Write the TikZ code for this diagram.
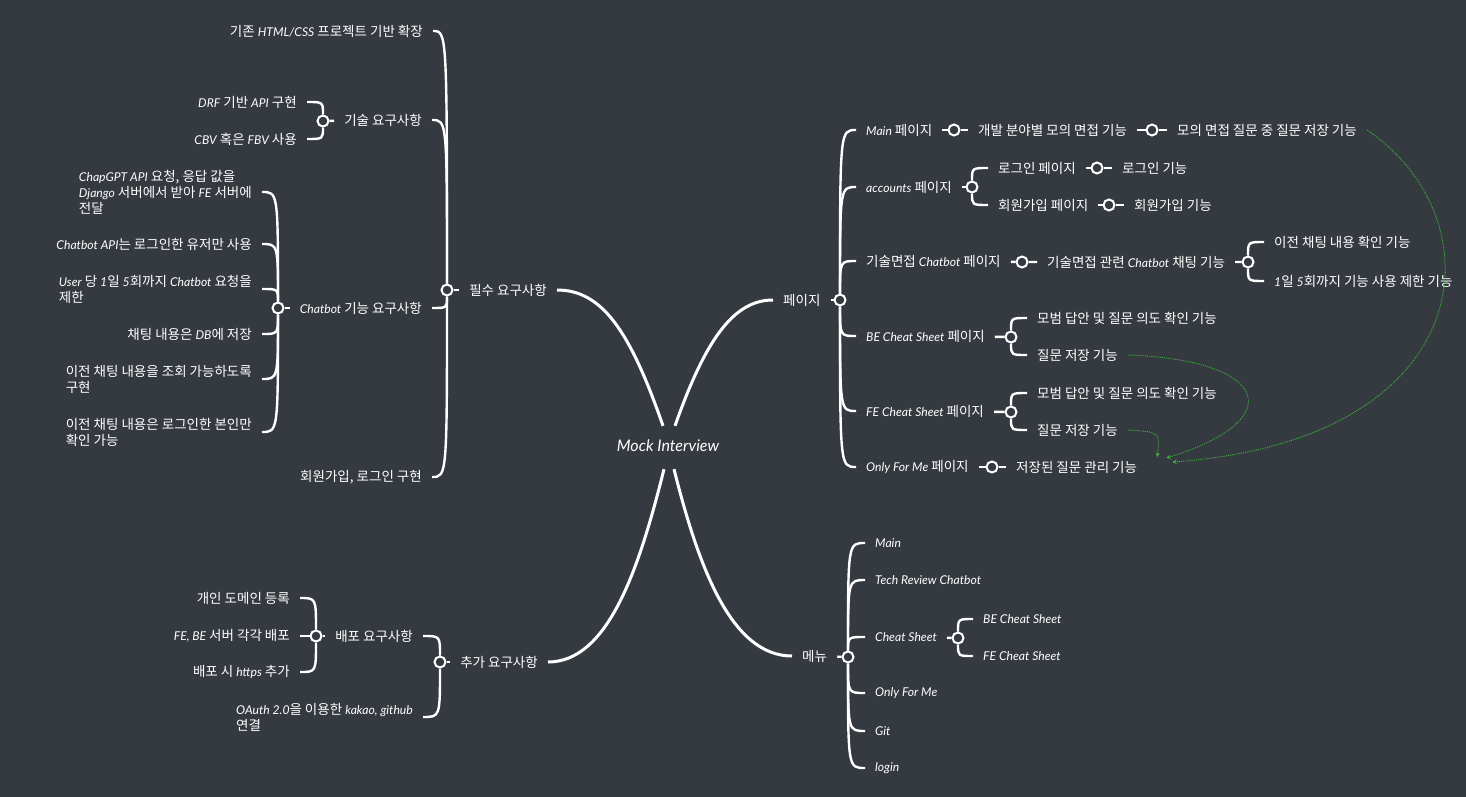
\documentclass[tikz,border=0pt]{standalone}
\usepackage{fontspec}
\setmainfont{Noto Sans CJK KR}
\newfontfamily\enfont{Lato}[Scale=0.9]
\newcommand{\en}[1]{{\enfont\itshape #1}}
\usetikzlibrary{arrows}
\definecolor{bg}{RGB}{53,58,64}
\definecolor{lgreen}{RGB}{60,185,60}

\begin{document}
\begin{tikzpicture}[x=1pt,y=-1pt,
  txt/.style={text=white,font=\fontsize{13.5}{16}\selectfont,inner xsep=10pt,inner ysep=2pt},
  lt/.style={txt,anchor=east,align=left},
  rt/.style={txt,anchor=west,align=left},
  hub/.style={circle,draw=white,line width=2pt,minimum size=11pt,inner sep=0pt},
  br/.style={draw=white,line width=2.4pt},
  trunk/.style={draw=white,line width=3pt},
  link/.style={draw=lgreen,densely dotted,line width=0.9pt,->,>=stealth}]
  \useasboundingbox (0,0) rectangle (1466,797);
  \fill[bg] (0,0) rectangle (1466,797);
  \node[txt,font=\fontsize{17.8}{20}\selectfont,inner ysep=14pt] (root) at (668,446) {\en{Mock Interview}};

  % required
  \node[lt] (req) at (557,290) {필수 요구사항};
  \node[hub] (h_req) at (447,290) {};
  \node[lt] (req_1) at (433,31) {기존 \en{HTML/CSS} 프로젝트 기반 확장};
  \node[lt] (req_2) at (432,120) {기술 요구사항};
  \node[hub] (h_req_2) at (323,121) {};
  \node[lt] (req_21) at (307,102) {\en{DRF} 기반 \en{API} 구현};
  \node[lt] (req_22) at (307,139) {\en{CBV} 혹은 \en{FBV} 사용};
  \node[lt] (req_3) at (432,308) {\en{Chatbot} 기능 요구사항};
  \node[hub] (h_req_3) at (278,308) {};
  \node[lt] (req_31) at (262,192) {\en{ChapGPT API} 요청, 응답 값을\\\en{Django} 서버에서 받아 \en{FE} 서버에\\전달};
  \node[lt] (req_32) at (262,244) {\en{Chatbot API}는 로그인한 유저만 사용};
  \node[lt] (req_33) at (262,289) {\en{User} 당 \en{1}일 \en{5}회까지 \en{Chatbot} 요청을\\제한};
  \node[lt] (req_34) at (262,334) {채팅 내용은 \en{DB}에 저장};
  \node[lt] (req_35) at (262,379) {이전 채팅 내용을 조회 가능하도록\\구현};
  \node[lt] (req_36) at (262,432) {이전 채팅 내용은 로그인한 본인만\\확인 가능};
  \node[lt] (req_4) at (432,477) {회원가입, 로그인 구현};

  % additional
  \node[lt] (add) at (548,662) {추가 요구사항};
  \node[hub] (h_add) at (440,662) {};
  \node[lt] (add_1) at (423,636) {배포 요구사항};
  \node[hub] (h_add_1) at (316,636) {};
  \node[lt] (add_11) at (300,598) {개인 도메인 등록};
  \node[lt] (add_12) at (300,636) {\en{FE, BE} 서버 각각 배포};
  \node[lt] (add_13) at (300,672) {배포 시 \en{https} 추가};
  \node[lt] (add_2) at (423,717) {\en{OAuth 2.0}을 이용한 \en{kakao, github}\\연결};

  % pages
  \node[rt] (page) at (773,300) {페이지};
  \node[hub] (h_page) at (840,300) {};
  \node[rt] (page_1) at (856,130) {\en{Main} 페이지};
  \node[hub] (hp_1) at (954,130) {};
  \node[rt] (page_11) at (968,130) {개발 분야별 모의 면접 기능};
  \node[hub] (hp_11) at (1152,130) {};
  \node[rt] (page_111) at (1167,130) {모의 면접 질문 중 질문 저장 기능};
  \node[rt] (page_2) at (856,187) {\en{accounts} 페이지};
  \node[hub] (hp_2) at (972,187) {};
  \node[rt] (page_21) at (988,168) {로그인 페이지};
  \node[hub] (hp_21) at (1097,168) {};
  \node[rt] (page_211) at (1112,168) {로그인 기능};
  \node[rt] (page_22) at (988,205) {회원가입 페이지};
  \node[hub] (hp_22) at (1109,205) {};
  \node[rt] (page_221) at (1124,205) {회원가입 기능};
  \node[rt] (page_3) at (856,261) {기술면접 \en{Chatbot} 페이지};
  \node[hub] (hp_3) at (1022,262) {};
  \node[rt] (page_31) at (1037,262) {기술면접 관련 \en{Chatbot} 채팅 기능};
  \node[hub] (hp_31) at (1248,262) {};
  \node[rt] (page_311) at (1264,242) {이전 채팅 내용 확인 기능};
  \node[rt] (page_312) at (1264,281) {\en{1}일 \en{5}회까지 기능 사용 제한 기능};
  \node[rt] (page_4) at (856,336) {\en{BE Cheat Sheet} 페이지};
  \node[hub] (hp_4) at (1011,337) {};
  \node[rt] (page_41) at (1027,318) {모범 답안 및 질문 의도 확인 기능};
  \node[rt] (page_42) at (1027,355) {질문 저장 기능};
  \node[rt] (page_5) at (856,411) {\en{FE Cheat Sheet} 페이지};
  \node[hub] (hp_5) at (1011,412) {};
  \node[rt] (page_51) at (1027,393) {모범 답안 및 질문 의도 확인 기능};
  \node[rt] (page_52) at (1027,430) {질문 저장 기능};
  \node[rt] (page_6) at (856,467) {\en{Only For Me} 페이지};
  \node[hub] (hp_6) at (992,467) {};
  \node[rt] (page_61) at (1006,467) {저장된 질문 관리 기능};

  % menu
  \node[rt] (menu) at (792,656) {메뉴};
  \node[hub] (h_menu) at (848,657) {};
  \node[rt] (menu_1) at (865,543) {\en{Main}};
  \node[rt] (menu_2) at (865,580) {\en{Tech Review Chatbot}};
  \node[rt] (menu_3) at (865,637) {\en{Cheat Sheet}};
  \node[hub] (h_menu_3) at (958,638) {};
  \node[rt] (menu_31) at (973,619) {\en{BE Cheat Sheet}};
  \node[rt] (menu_32) at (973,656) {\en{FE Cheat Sheet}};
  \node[rt] (menu_4) at (865,693) {\en{Only For Me}};
  \node[rt] (menu_5) at (865,731) {\en{Git}};
  \node[rt] (menu_6) at (865,768) {\en{login}};

  % main branches
  \path[trunk] ([xshift=-5pt]root.north) .. controls +(-33,-95) and +(45,0) .. (req.east);
  \path[trunk] ([xshift=7pt]root.north) .. controls +(30,-85) and +(-40,0) .. (page.west);
  \path[trunk] ([xshift=-4pt,yshift=-3pt]root.south) .. controls +(-25,100) and +(60,0) .. (add.east);
  \path[trunk] ([xshift=6pt,yshift=-3pt]root.south) .. controls +(25,100) and +(-60,0) .. (menu.west);

  % left side
  \path[br] (req) -- (h_req);
  \foreach \c in {req_1,req_2,req_3,req_4}
    \path[br] (h_req) .. controls (h_req |- \c.east) .. (\c.east);
  \path[br] (req_2) -- (h_req_2);
  \foreach \c in {req_21,req_22}
    \path[br] (h_req_2) .. controls (h_req_2 |- \c.east) .. (\c.east);
  \path[br] (req_3) -- (h_req_3);
  \foreach \c in {req_31,req_32,req_33,req_34,req_35,req_36}
    \path[br] (h_req_3) .. controls (h_req_3 |- \c.east) .. (\c.east);
  \path[br] (add) -- (h_add);
  \foreach \c in {add_1,add_2}
    \path[br] (h_add) .. controls (h_add |- \c.east) .. (\c.east);
  \path[br] (add_1) -- (h_add_1) -- (add_12);
  \foreach \c in {add_11,add_13}
    \path[br] (h_add_1) .. controls (h_add_1 |- \c.east) .. (\c.east);

  % right side
  \path[br] (page) -- (h_page);
  \foreach \c in {page_1,page_2,page_3,page_4,page_5,page_6}
    \path[br] (h_page) .. controls (h_page |- \c.west) .. (\c.west);
  \path[br] (page_1) -- (hp_1) -- (page_11) -- (hp_11) -- (page_111);
  \path[br] (page_2) -- (hp_2);
  \foreach \c in {page_21,page_22}
    \path[br] (hp_2) .. controls (hp_2 |- \c.west) .. (\c.west);
  \path[br] (page_21) -- (hp_21) -- (page_211);
  \path[br] (page_22) -- (hp_22) -- (page_221);
  \path[br] (page_3) -- (hp_3) -- (page_31) -- (hp_31);
  \foreach \c in {page_311,page_312}
    \path[br] (hp_31) .. controls (hp_31 |- \c.west) .. (\c.west);
  \path[br] (page_4) -- (hp_4);
  \foreach \c in {page_41,page_42}
    \path[br] (hp_4) .. controls (hp_4 |- \c.west) .. (\c.west);
  \path[br] (page_5) -- (hp_5);
  \foreach \c in {page_51,page_52}
    \path[br] (hp_5) .. controls (hp_5 |- \c.west) .. (\c.west);
  \path[br] (page_6) -- (hp_6) -- (page_61);
  \path[br] (menu) -- (h_menu);
  \foreach \c in {menu_1,menu_2,menu_3,menu_4,menu_5,menu_6}
    \path[br] (h_menu) .. controls (h_menu |- \c.west) .. (\c.west);
  \path[br] (menu_3) -- (h_menu_3);
  \foreach \c in {menu_31,menu_32}
    \path[br] (h_menu_3) .. controls (h_menu_3 |- \c.west) .. (\c.west);

  % saved questions
  \path[link] (page_111.east) .. controls (1500,220) and (1480,440) .. ([xshift=25pt,yshift=5pt]page_61.east);
  \path[link] (page_42.east) .. controls (1270,360) and (1290,420) .. ([xshift=19pt,yshift=9pt]page_61.east);
  \path[link] (page_52.east) .. controls (1160,432) .. ([xshift=10pt,yshift=10pt]page_61.east);
\end{tikzpicture}
\end{document}
